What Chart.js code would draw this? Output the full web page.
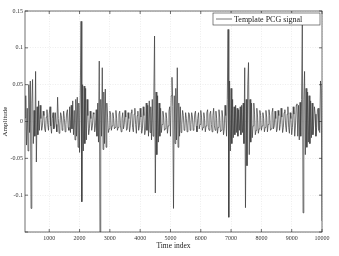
<!DOCTYPE html>
<html>
<head>
<meta charset="utf-8">
<script src="https://cdn.jsdelivr.net/npm/chart.js@4.4.0/dist/chart.umd.min.js"></script>
<style>
  html, body { margin: 0; padding: 0; background: #fff; }
  #wrap { width: 339px; height: 256px; }
</style>
</head>
<body>
<div id="wrap"><canvas id="pcg"></canvas></div>
<script>
// Muestras de la plantilla PCG (índice inicial y paso entre muestras)
const startIndex = 200;
const sampleStep = 25;

// Amplitud, bloques de 20 muestras (500 índices)
const amplitude = [
  0.005, 0.035, -0.032, 0.018, -0.04, 0.05, -0.015, 0.055, -0.118, 0.025, 0.057, -0.03, 0.015, -0.02, 0.068, -0.055, 0.02, -0.018, 0.028, -0.012,
  0.022, 0.004, -0.012, -0.006, 0.014, 0.008, -0.01, -0.014, 0.006, 0.016, -0.004, -0.012, 0.01, 0.02, -0.006, -0.016, 0.004, 0.012, -0.01, -0.008,
  0.012, -0.004, -0.014, 0.033, 0.004, -0.016, -0.006, 0.012, 0.008, -0.012, -0.008, 0.014, 0.004, -0.014, -0.004, 0.012, 0.016, -0.008, -0.012, 0.02,
  -0.015, 0.022, -0.01, 0.028, -0.018, 0.015, -0.025, 0.03, -0.02, 0.033, -0.035, 0.025, -0.042, 0.04, 0.136, -0.109, 0.05, -0.04, 0.048, -0.03,
  0.045, -0.025, 0.03, 0.008, -0.018, -0.01, 0.014, 0.004, -0.012, -0.006, 0.012, 0.01, -0.014, -0.006, 0.016, -0.02, 0.025, -0.028, 0.082, -0.16,
  0.03, -0.02, 0.073, -0.038, 0.04, -0.03, 0.044, -0.035, 0.025, 0.006, -0.015, -0.01, 0.014, 0.01, -0.012, -0.006, 0.012, 0.004, -0.01, -0.008,
  0.015, 0.004, -0.012, -0.008, 0.01, 0.014, -0.006, -0.014, 0.004, 0.012, -0.01, -0.004, 0.015, 0.006, -0.012, -0.01, 0.012, 0.004, -0.014, -0.006,
  0.012, 0.016, -0.008, -0.014, 0.01, 0.018, -0.004, -0.016, 0.008, 0.014, -0.012, -0.006, 0.018, 0.006, -0.016, -0.01, 0.02, 0.008, -0.018, -0.012,
  0.025, -0.012, 0.022, -0.02, 0.028, -0.015, 0.02, -0.025, 0.03, -0.02, 0.035, 0.116, -0.097, 0.04, -0.045, 0.035, -0.028, 0.025, -0.02, 0.018,
  -0.015, -0.004, 0.014, 0.006, -0.012, -0.01, 0.012, 0.004, -0.016, -0.006, 0.014, 0.02, -0.02, 0.035, 0.06, 0.02, -0.118, 0.035, -0.03, 0.045,
  -0.025, 0.073, -0.035, 0.025, -0.02, 0.02, -0.015, -0.004, 0.015, 0.008, -0.012, -0.01, 0.012, 0.004, -0.014, -0.006, 0.012, 0.01, -0.012, -0.004,
  0.012, 0.006, -0.012, -0.008, 0.01, 0.014, -0.006, -0.014, 0.004, 0.012, -0.01, -0.004, 0.015, 0.006, -0.012, -0.008, 0.012, 0.004, -0.014, -0.006,
  0.012, 0.016, -0.008, -0.012, 0.01, 0.014, -0.004, -0.014, 0.008, 0.018, -0.006, -0.012, 0.014, 0.004, -0.016, -0.008, 0.016, 0.006, -0.014, -0.012,
  0.015, 0.006, -0.018, -0.01, 0.022, 0.008, -0.02, 0.03, 0.125, -0.13, 0.055, -0.04, 0.045, -0.03, 0.03, -0.022, 0.02, -0.018, 0.022, -0.015,
  0.018, -0.02, 0.016, -0.012, 0.02, -0.018, 0.022, -0.015, 0.025, -0.03, 0.073, -0.117, 0.03, -0.06, 0.05, 0.08, -0.045, 0.03, -0.028, 0.025,
  -0.022, -0.006, 0.025, 0.01, -0.018, -0.012, 0.018, 0.006, -0.016, -0.01, 0.015, 0.008, -0.012, -0.006, 0.012, 0.004, -0.014, -0.008, 0.015, 0.006,
  -0.014, -0.004, 0.016, 0.008, -0.012, -0.01, 0.012, 0.018, -0.01, -0.006, 0.014, 0.004, -0.014, -0.01, 0.015, 0.008, -0.012, -0.004, 0.018, 0.006,
  -0.015, -0.008, 0.012, 0.016, -0.006, -0.014, 0.01, 0.02, -0.008, -0.016, 0.012, 0.004, -0.018, -0.008, 0.02, 0.01, -0.02, -0.006, 0.022, 0.024,
  -0.02, 0.022, -0.025, 0.026, -0.02, 0.03, 0.132, -0.124, 0.03, 0.068, -0.045, 0.045, -0.035, 0.04, -0.028, 0.035, -0.03, 0.028, -0.022, 0.025,
  -0.018, -0.006, 0.02, 0.01, -0.02, -0.008, 0.016, 0.018, -0.012, -0.015, 0.055, 0.045, -0.135
];

// Marcas de los ejes
const xTicks = [1000, 2000, 3000, 4000, 5000, 6000, 7000, 8000, 9000, 10000];
const yTicks = [-0.15, -0.1, -0.05, 0, 0.05, 0.1, 0.15];

const serif = "'Liberation Serif', 'DejaVu Serif', serif";

// Puntos {x, y} para la escala lineal
const puntos = amplitude.map((v, i) => ({ x: startIndex + i * sampleStep, y: v }));

// Caja estilo MATLAB: borde, ticks hacia adentro y leyenda
const cajaPlugin = {
  id: 'cajaMatlab',
  afterDraw(chart) {
    const { ctx, chartArea: ca, scales } = chart;
    ctx.save();
    ctx.strokeStyle = '#333';
    ctx.lineWidth = 0.7;
    ctx.strokeRect(ca.left, ca.top, ca.right - ca.left, ca.bottom - ca.top);

    ctx.beginPath();
    xTicks.forEach(v => {
      const px = scales.x.getPixelForValue(v);
      ctx.moveTo(px, ca.bottom); ctx.lineTo(px, ca.bottom - 3);
      ctx.moveTo(px, ca.top); ctx.lineTo(px, ca.top + 3);
    });
    yTicks.forEach(v => {
      const py = scales.y.getPixelForValue(v);
      ctx.moveTo(ca.left, py); ctx.lineTo(ca.left + 3, py);
      ctx.moveTo(ca.right, py); ctx.lineTo(ca.right - 3, py);
    });
    ctx.stroke();

    // Leyenda
    const w = 107, h = 12;
    const lx = ca.right - w - 2, ly = ca.top + 2;
    ctx.fillStyle = '#fff';
    ctx.fillRect(lx, ly, w, h);
    ctx.lineWidth = 0.6;
    ctx.strokeRect(lx, ly, w, h);
    ctx.beginPath();
    ctx.strokeStyle = '#555';
    ctx.lineWidth = 0.8;
    ctx.moveTo(lx + 3, ly + h / 2);
    ctx.lineTo(lx + 19, ly + h / 2);
    ctx.stroke();
    ctx.fillStyle = '#222';
    ctx.font = "8px " + serif;
    ctx.textBaseline = 'middle';
    ctx.fillText(chart.data.datasets[0].label, lx + 21, ly + h / 2 + 0.5);
    ctx.restore();
  }
};

const ctx = document.getElementById('pcg').getContext('2d');
const chart = new Chart(ctx, {
  type: 'line',
  data: {
    datasets: [{
      label: 'Template PCG signal',
      data: puntos,
      borderColor: '#3a3a3a',
      borderWidth: 0.7,
      pointRadius: 0,
      tension: 0,
      fill: false
    }]
  },
  options: {
    responsive: true,
    maintainAspectRatio: false,
    animation: false,
    layout: { padding: { top: 11, right: 17, left: 0, bottom: 0 } },
    plugins: { legend: { display: false }, tooltip: { enabled: false } },
    scales: {
      x: {
        type: 'linear',
        min: 200,
        max: 10000,
        afterBuildTicks: s => { s.ticks = xTicks.map(v => ({ value: v })); },
        afterFit: s => { s.height = 24; },
        grid: { color: '#e2e2e2', lineWidth: 0.6, drawTicks: false },
        border: { display: false, dash: [1, 1.5] },
        ticks: { padding: 3, color: '#333', font: { family: serif, size: 6 }, maxRotation: 0,
          callback: v => String(v) },
        title: { display: true, text: 'Time index', color: '#222',
          font: { family: serif, size: 7.5 }, padding: { top: 0, bottom: 5 } }
      },
      y: {
        min: -0.15,
        max: 0.15,
        afterBuildTicks: s => { s.ticks = yTicks.map(v => ({ value: v })); },
        afterFit: s => { s.width = 25; },
        grid: { color: '#e2e2e2', lineWidth: 0.6, drawTicks: false },
        border: { display: false, dash: [1, 1.5] },
        ticks: { padding: 2, color: '#333', font: { family: serif, size: 6 },
          callback: v => (Math.abs(v + 0.15) < 1e-9 ? '' : String(+v.toFixed(2))) },
        title: { display: true, text: 'Amplitude', color: '#222',
          font: { family: serif, size: 7 }, padding: { top: 1, bottom: 0 } }
      }
    }
  },
  plugins: [cajaPlugin]
});
</script>
</body>
</html>
